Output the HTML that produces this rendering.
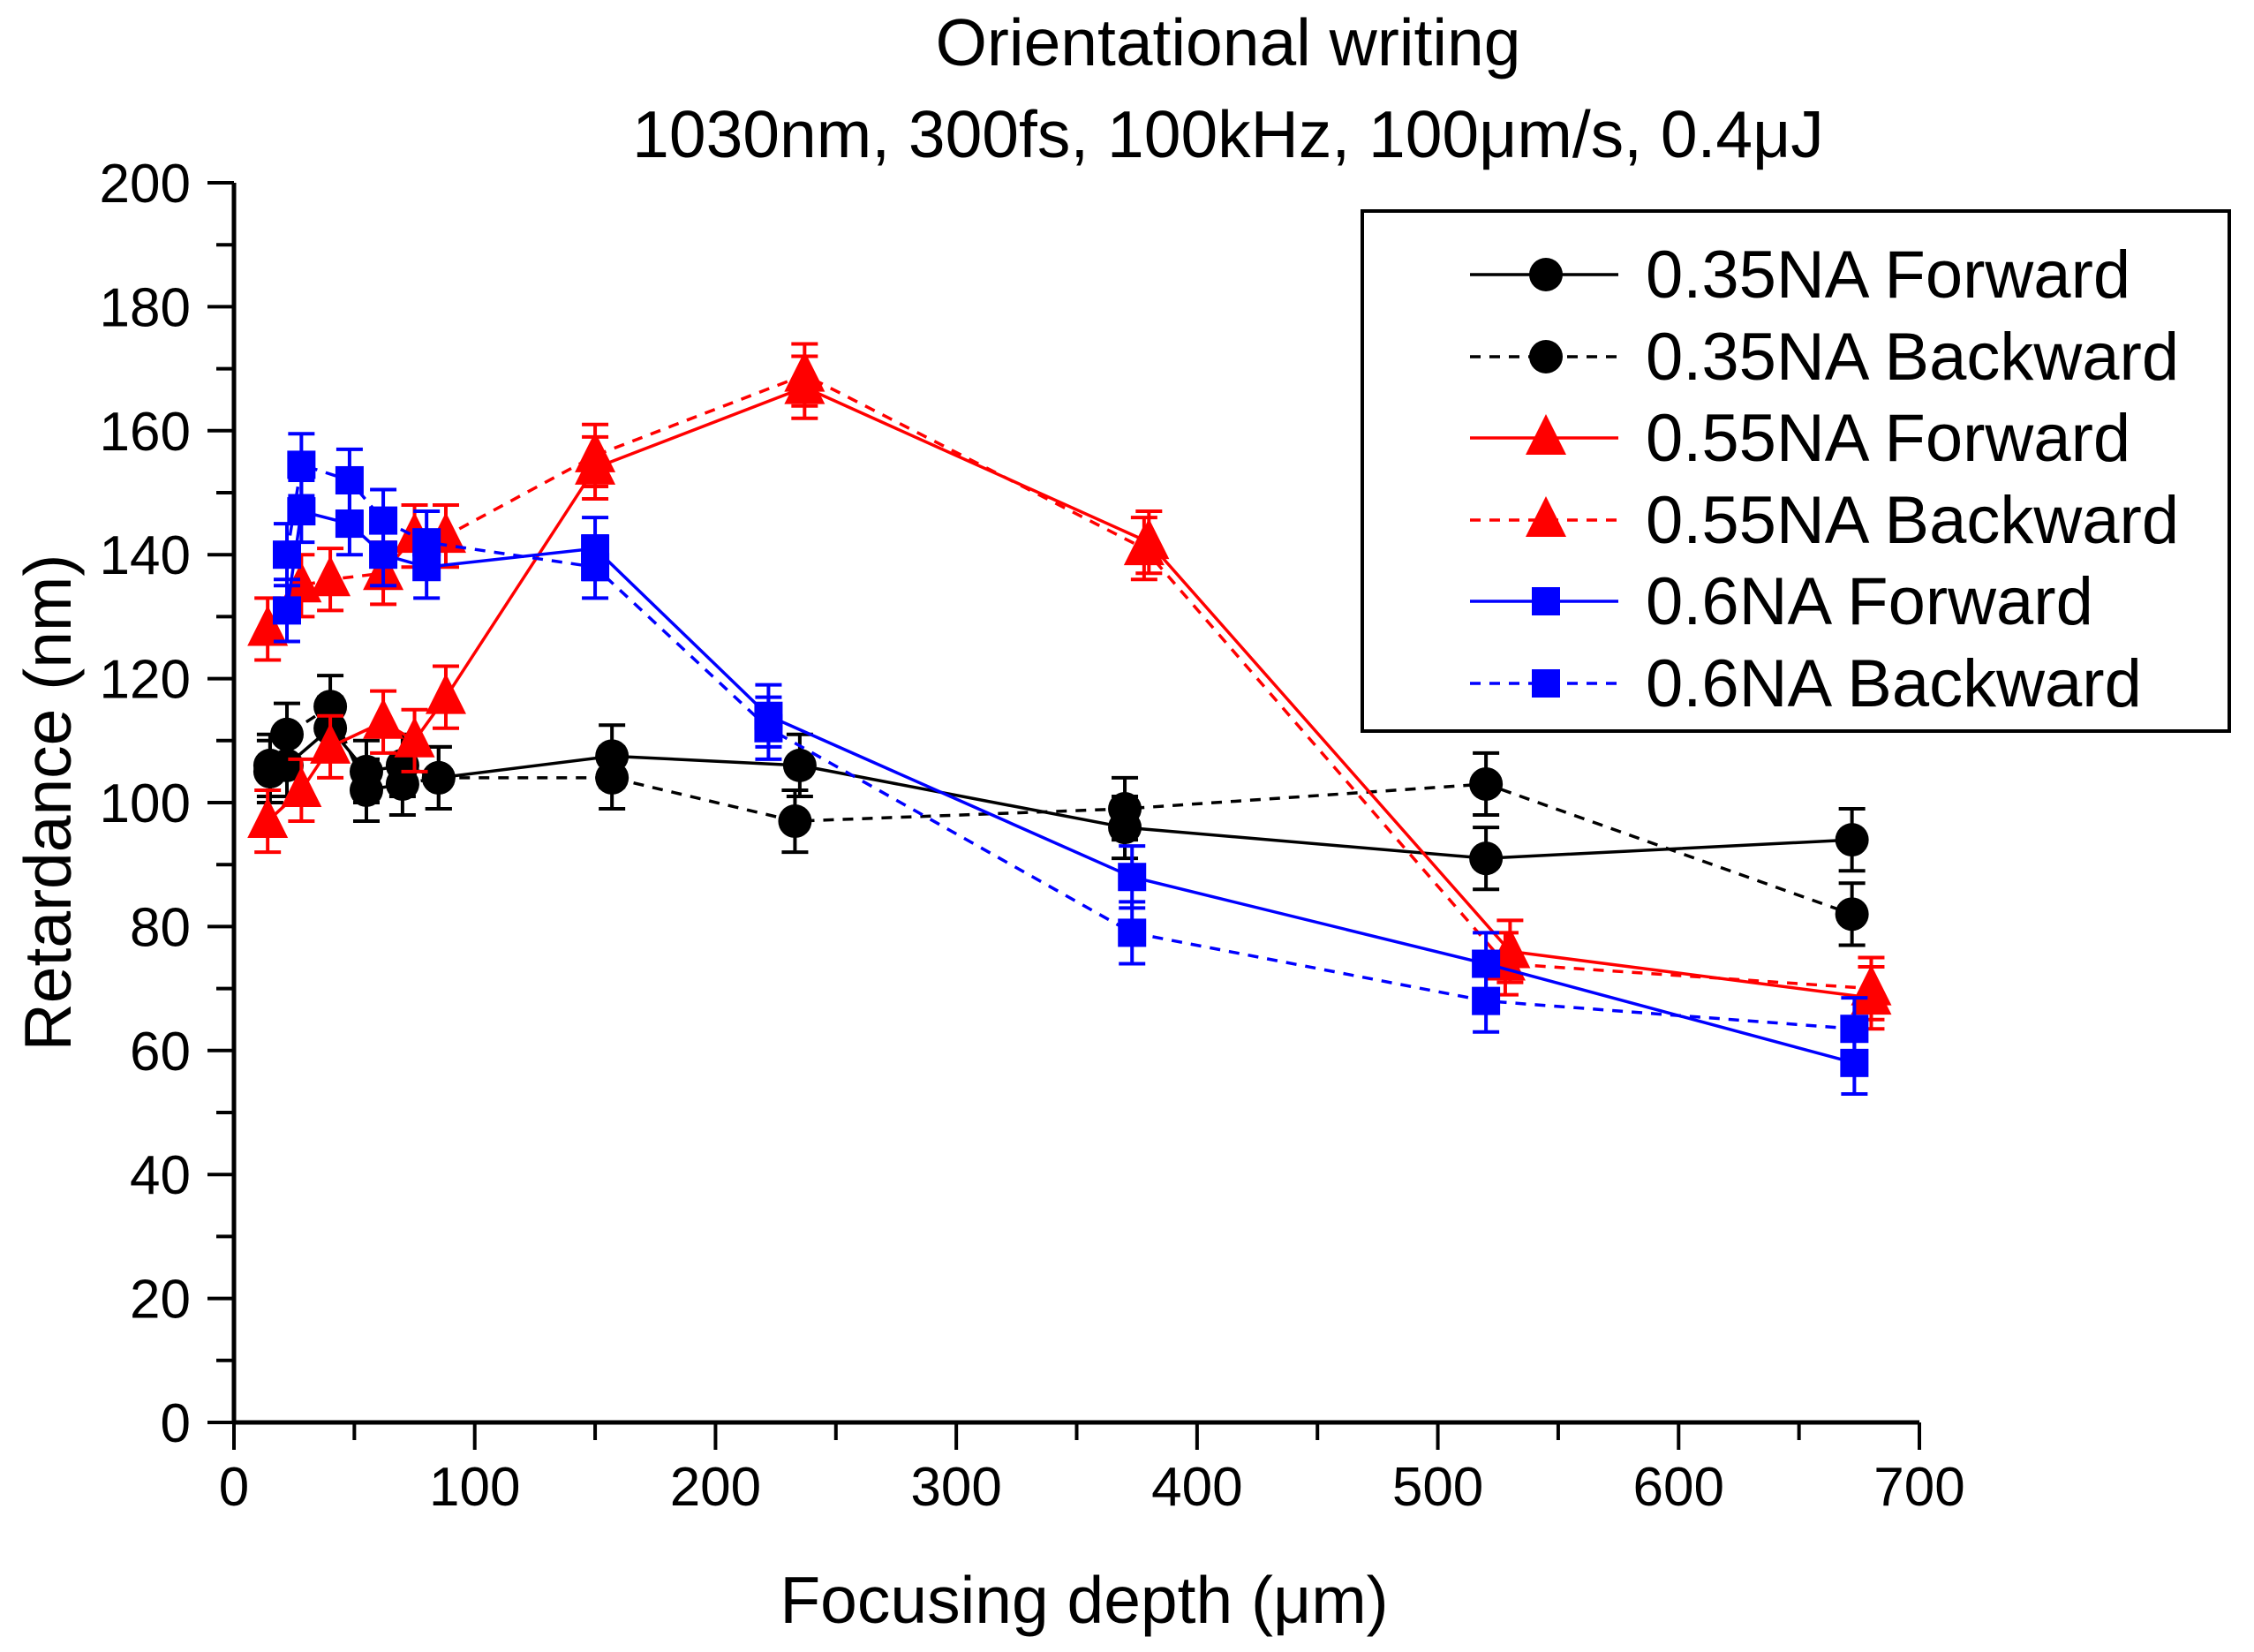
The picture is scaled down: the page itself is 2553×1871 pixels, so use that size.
<!DOCTYPE html>
<html><head><meta charset="utf-8"><style>
html,body{margin:0;padding:0;background:#fff;}
svg{display:block;font-family:"Liberation Sans",Arial,sans-serif;}
</style></head><body>
<svg id="chart" width="2553" height="1871" viewBox="0 0 2553 1871" xmlns="http://www.w3.org/2000/svg">
<rect width="2553" height="1871" fill="#fff"/>
<text x="1391" y="74" font-size="75" text-anchor="middle">Orientational writing</text>
<text x="1391" y="178" font-size="75" text-anchor="middle">1030nm, 300fs, 100kHz, 100μm/s, 0.4μJ</text>
<g id="axes"></g>
<g id="series"></g>
<g id="legend"></g>
<text x="1228" y="1838" font-size="75" text-anchor="middle">Focusing depth (μm)</text>
<text transform="translate(80,909) rotate(-90)" font-size="75" text-anchor="middle">Retardance (nm)</text>
</svg>
<script>
const xTicks=[0,100,200,300,400,500,600,700];
const yTicks=[0,20,40,60,80,100,120,140,160,180,200];
const seriesNames=["0.35NA Forward","0.35NA Backward","0.55NA Forward","0.55NA Backward","0.6NA Forward","0.6NA Backward"];
const x035F=[15,22,40,55,70,85,157,235,370,520,672];
const y035F=[105,106,112,105,106,104,107.5,106,96,91,94];
const x035B=[15,22,40,55,70,85,157,233,370,520,672];
const y035B=[106,111,115.5,102,103,104,104,97,99,103,82];
const x055F=[14,28,40,62,75,88,150,237,380,530,680];
const y055F=[97,102,109,113,110,117,154,167,142,76,68.5];
const x055B=[14,28,40,62,75,88,150,237,378,528,680];
const y055B=[128,135,136,137,143,143,156,169,141,74,70];
const x06F=[22,28,48,62,80,150,222,373,520,673];
const y06F=[131,147,145,140,138,141,114,88,74,58];
const x06B=[22,28,48,62,80,150,222,373,520,673];
const y06B=[140,154.5,152,145.5,142,138,112,79,68,63.5];
const errVal=5;

const NS="http://www.w3.org/2000/svg";
const X0=265,X1=2174,Y0=1611,Y1=207;
function xs(v){return X0+(v-0)/(700-0)*(X1-X0);}
function ys(v){return Y0-(v-0)/(200-0)*(Y0-Y1);}
function mk(tag,attrs,parent){const e=document.createElementNS(NS,tag);for(const k in attrs)e.setAttribute(k,attrs[k]);parent.appendChild(e);return e;}

const axes=document.getElementById('axes');
let e;
e=mk('line',{x1:X0,y1:Y0,x2:X1,y2:Y0,stroke:'#000','stroke-width':5},axes);


e=mk('line',{x1:X0,y1:Y0+2,x2:X0,y2:Y1,stroke:'#000','stroke-width':5},axes);


for(let v=0;v<=700;v+=50){const major=v%100===0;
 e=mk('line',{x1:xs(v),y1:Y0,x2:xs(v),y2:Y0+(major?31:20),stroke:'#000','stroke-width':4},axes);
 
 }
xTicks.forEach(v=>{e=mk('text',{x:xs(v),y:Y0+94,'font-size':62,'text-anchor':'middle'},axes);e.textContent=v;
 
 });
for(let v=0;v<=200;v+=10){const major=v%20===0;
 e=mk('line',{x1:X0,y1:ys(v),x2:X0-(major?30:20),y2:ys(v),stroke:'#000','stroke-width':4},axes);
 
 }
yTicks.forEach(v=>{e=mk('text',{x:216,y:ys(v)+22,'font-size':62,'text-anchor':'end'},axes);e.textContent=v;
 
 });

function marker(shape,cx,cy,color,parent){
 if(shape==='circle')return mk('ellipse',{cx:cx,cy:cy,rx:19,ry:19,fill:color},parent);
 if(shape==='square')return mk('rect',{x:cx-16,y:cy-16,width:32,height:32,fill:color},parent);
 return mk('polygon',{points:`${cx},${cy-27} ${cx-23},${cy+19} ${cx+23},${cy+19}`,fill:color},parent);
}
const sg=document.getElementById('series');
const defs=[
 [x035F,y035F,'#000','circle',false],[x035B,y035B,'#000','circle',true],
 [x055F,y055F,'#f00','triangle',false],[x055B,y055B,'#f00','triangle',true],
 [x06F,y06F,'#00f','square',false],[x06B,y06B,'#00f','square',true]];
defs.forEach((d,i)=>{
 const [xa,ya,col,shape,dash]=d;
 const g=mk('g',{},sg);
 
 
 const pts=xa.map((x,j)=>xs(x)+','+ys(ya[j])).join(' ');
 const pl=mk('polyline',{points:pts,fill:'none',stroke:col,'stroke-width':3.5},g);
 if(dash)pl.setAttribute('stroke-dasharray','12 10');
 
 
 xa.forEach((x,j)=>{
  const cx=xs(x),cy=ys(ya[j]),t=ys(ya[j]+errVal),b=ys(ya[j]-errVal);
  const eb=mk('path',{d:`M${cx},${t}V${b}M${cx-15},${t}H${cx+15}M${cx-15},${b}H${cx+15}`,stroke:col,'stroke-width':4,fill:'none'},g);
  
  
  const m=marker(shape,cx,cy,col,g);
  
  
 });
});
const lg=document.getElementById('legend');
e=mk('rect',{x:1543,y:239,width:982,height:589,fill:'#fff',stroke:'#000','stroke-width':4},lg);


const rowY=[311,404,496,589,681,774];
defs.forEach((d,i)=>{
 const g=mk('g',{},lg);
 
 
 const l=mk('line',{x1:1665,y1:rowY[i],x2:1833,y2:rowY[i],stroke:d[2],'stroke-width':3.5},g);
 if(d[4])l.setAttribute('stroke-dasharray','12 10');
 marker(d[3],1751,rowY[i],d[2],g);
 const t=mk('text',{x:1864,y:rowY[i]+26,'font-size':76},g);t.textContent=seriesNames[i];
});
</script>
</body></html>
